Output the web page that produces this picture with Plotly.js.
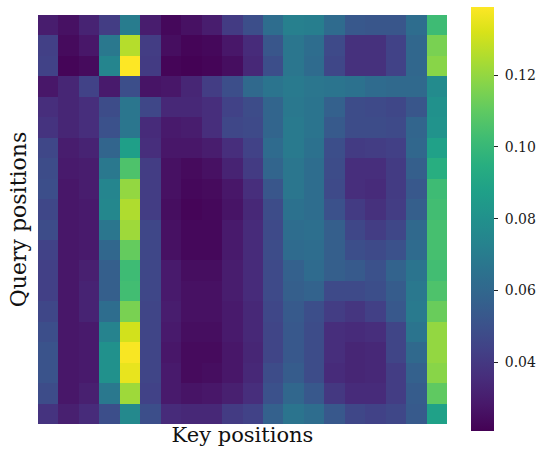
<!DOCTYPE html>
<html>
<head>
<meta charset="utf-8">
<script src="https://cdn.plot.ly/plotly-3.0.1.min.js"></script>
<style>
  html, body { margin: 0; padding: 0; background: #fff; }
  #chart { width: 538px; height: 453px; }
</style>
</head>
<body>
<div id="chart"></div>
<script>
// Attention weights: one row per query position, one column per key position.
const keyPositions = Array.from({length: 20}, (_, i) => i);
const queryPositions = Array.from({length: 20}, (_, i) => i);

const attention = [
  [0.030, 0.026, 0.032, 0.042, 0.070, 0.030, 0.023, 0.026, 0.030, 0.041, 0.049, 0.063, 0.072, 0.071, 0.062, 0.053, 0.052, 0.052, 0.063, 0.102],
  [0.043, 0.024, 0.028, 0.068, 0.126, 0.042, 0.025, 0.022, 0.023, 0.028, 0.035, 0.052, 0.067, 0.063, 0.047, 0.037, 0.037, 0.044, 0.060, 0.115],
  [0.044, 0.022, 0.024, 0.074, 0.139, 0.041, 0.022, 0.021, 0.022, 0.025, 0.034, 0.049, 0.067, 0.062, 0.046, 0.037, 0.037, 0.044, 0.060, 0.118],
  [0.028, 0.033, 0.044, 0.029, 0.049, 0.027, 0.028, 0.033, 0.042, 0.049, 0.061, 0.066, 0.069, 0.067, 0.066, 0.065, 0.062, 0.061, 0.061, 0.077],
  [0.036, 0.033, 0.036, 0.048, 0.067, 0.046, 0.034, 0.034, 0.036, 0.044, 0.048, 0.059, 0.068, 0.066, 0.057, 0.048, 0.047, 0.046, 0.052, 0.080],
  [0.038, 0.033, 0.036, 0.050, 0.067, 0.035, 0.029, 0.030, 0.036, 0.046, 0.047, 0.059, 0.069, 0.066, 0.054, 0.048, 0.048, 0.047, 0.059, 0.081],
  [0.046, 0.030, 0.032, 0.059, 0.087, 0.036, 0.028, 0.028, 0.030, 0.036, 0.044, 0.062, 0.069, 0.065, 0.049, 0.041, 0.042, 0.043, 0.060, 0.088],
  [0.048, 0.029, 0.030, 0.068, 0.106, 0.042, 0.026, 0.024, 0.026, 0.032, 0.041, 0.059, 0.067, 0.063, 0.048, 0.036, 0.036, 0.041, 0.056, 0.095],
  [0.049, 0.028, 0.030, 0.074, 0.120, 0.042, 0.026, 0.023, 0.024, 0.028, 0.036, 0.052, 0.067, 0.063, 0.047, 0.036, 0.035, 0.041, 0.053, 0.102],
  [0.046, 0.028, 0.029, 0.075, 0.125, 0.042, 0.025, 0.022, 0.023, 0.027, 0.034, 0.048, 0.065, 0.063, 0.050, 0.041, 0.037, 0.042, 0.056, 0.103],
  [0.048, 0.028, 0.029, 0.067, 0.122, 0.046, 0.026, 0.023, 0.023, 0.029, 0.035, 0.047, 0.063, 0.064, 0.056, 0.046, 0.042, 0.046, 0.061, 0.104],
  [0.044, 0.028, 0.029, 0.060, 0.111, 0.046, 0.026, 0.023, 0.023, 0.029, 0.035, 0.048, 0.062, 0.063, 0.056, 0.049, 0.047, 0.050, 0.062, 0.104],
  [0.043, 0.028, 0.031, 0.056, 0.102, 0.046, 0.029, 0.025, 0.025, 0.030, 0.035, 0.047, 0.057, 0.062, 0.056, 0.054, 0.050, 0.058, 0.066, 0.103],
  [0.043, 0.028, 0.032, 0.056, 0.103, 0.046, 0.029, 0.026, 0.026, 0.030, 0.035, 0.047, 0.056, 0.058, 0.047, 0.047, 0.049, 0.055, 0.068, 0.106],
  [0.046, 0.028, 0.032, 0.063, 0.115, 0.045, 0.030, 0.026, 0.026, 0.029, 0.034, 0.046, 0.054, 0.049, 0.042, 0.039, 0.043, 0.053, 0.069, 0.112],
  [0.049, 0.028, 0.029, 0.073, 0.131, 0.045, 0.029, 0.025, 0.025, 0.029, 0.034, 0.045, 0.053, 0.048, 0.036, 0.035, 0.036, 0.045, 0.066, 0.120],
  [0.051, 0.028, 0.029, 0.080, 0.138, 0.045, 0.028, 0.024, 0.024, 0.028, 0.033, 0.045, 0.053, 0.048, 0.036, 0.033, 0.034, 0.045, 0.061, 0.120],
  [0.051, 0.028, 0.029, 0.080, 0.135, 0.045, 0.029, 0.024, 0.025, 0.028, 0.034, 0.048, 0.055, 0.048, 0.035, 0.033, 0.034, 0.042, 0.057, 0.118],
  [0.048, 0.028, 0.031, 0.068, 0.122, 0.044, 0.029, 0.027, 0.028, 0.031, 0.036, 0.050, 0.060, 0.053, 0.040, 0.035, 0.035, 0.042, 0.055, 0.110],
  [0.038, 0.031, 0.035, 0.049, 0.076, 0.049, 0.035, 0.034, 0.034, 0.041, 0.044, 0.057, 0.066, 0.063, 0.053, 0.046, 0.044, 0.046, 0.054, 0.088]
];

const colorbarTicks = [0.04, 0.06, 0.08, 0.10, 0.12];
const colorbarTickText = ['0.04', '0.06', '0.08', '0.10', '0.12'];

const serif = 'DejaVu Serif, serif';

const trace = {
  type: 'heatmap',
  x: keyPositions,
  y: queryPositions,
  z: attention,
  colorscale: 'Viridis',
  zmin: 0.0208,
  zmax: 0.139,
  hoverongaps: false,
  colorbar: {
    thickness: 23,
    thicknessmode: 'pixels',
    len: 424,
    lenmode: 'pixels',
    x: 1.0587,
    xanchor: 'left',
    y: 0.5012,
    yanchor: 'middle',
    xpad: 0,
    ypad: 0,
    outlinewidth: 0,
    ticks: 'outside',
    ticklen: 4,
    tickwidth: 1,
    tickcolor: '#222',
    tickvals: colorbarTicks,
    ticktext: colorbarTickText.map(t => '\u00a0' + t),
    tickfont: {family: serif, size: 14, color: '#1a1a1a'}
  }
};

const layout = {
  width: 538,
  height: 453,
  // keep the heatmap area fixed; the colour bar sits in the right margin
  margin: {l: 38, r: 91, t: 15, b: 29, autoexpand: false},
  paper_bgcolor: '#ffffff',
  plot_bgcolor: '#ffffff',
  xaxis: {
    showticklabels: false,
    ticks: '',
    showgrid: false,
    zeroline: false,
    showline: false,
    title: {text: 'Key positions', font: {family: serif, size: 21, color: '#111'}, standoff: 3}
  },
  yaxis: {
    autorange: 'reversed',
    showticklabels: false,
    ticks: '',
    showgrid: false,
    zeroline: false,
    showline: false,
    title: {text: 'Query positions', font: {family: serif, size: 22, color: '#111'}, standoff: 4}
  }
};

Plotly.newPlot('chart', [trace], layout, {displayModeBar: false, staticPlot: true});
</script>
</body>
</html>
